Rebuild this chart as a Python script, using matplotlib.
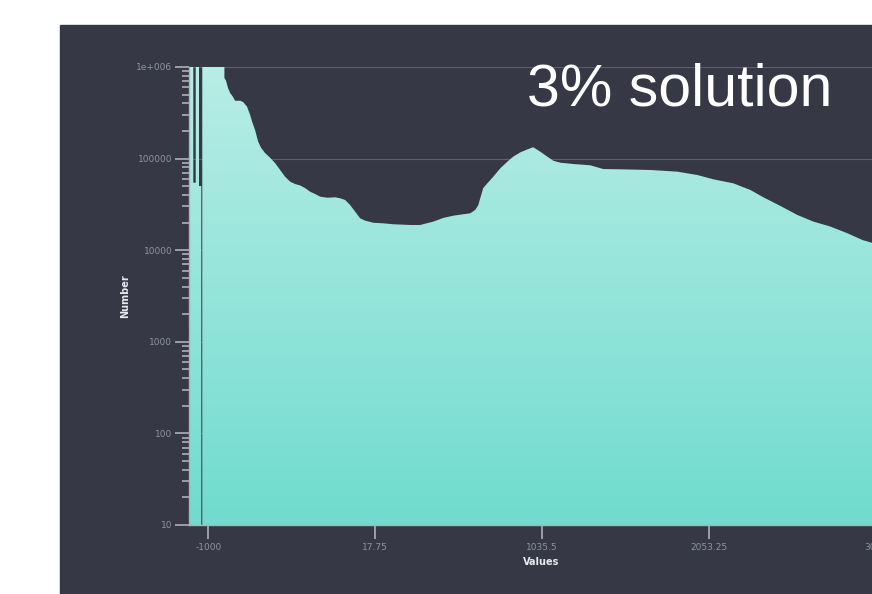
import numpy as np
import matplotlib
matplotlib.use("Agg")
import matplotlib.pyplot as plt
from matplotlib.patches import Rectangle
from matplotlib.ticker import FixedLocator, FixedFormatter, LogLocator, NullFormatter

# histogram envelope (value, count)
values = [-1118, -1092, -1092, -1077, -1077, -1057, -1057, -1043, -1043, -1037, -1037,
          -902, -902, -892, -880, -867, -849, -837, -806, -788, -764, -745, -733, -715,
          -696, -678, -654, -623, -593, -562, -532, -501, -471, -440, -410, -379, -349,
          -318, -275, -226, -196, -165, -135, -104, -74, -43, 6, 67, 128, 231, 292, 372,
          433, 494, 555, 598, 628, 647, 659, 677, 702, 738, 781, 824, 860, 903, 946, 982,
          1025, 1068, 1104, 1147, 1227, 1330, 1410, 1513, 1697, 1861, 1983, 2081, 2203,
          2307, 2386, 2490, 2594, 2692, 2795, 2899, 2991, 3052]
counts = [3e6, 3e6, 54600, 54600, 3e6, 3e6, 50200, 50200, 1, 1, 3e6,
          3e6, 759000, 708000, 590000, 520000, 470000, 428000, 428000, 415000, 369000,
          299000, 253000, 205000, 153000, 131000, 115000, 102000, 89500, 75100, 63400,
          56000, 52800, 50900, 47700, 43500, 41100, 38400, 37400, 37800, 36900, 35300,
          31100, 26300, 22300, 21000, 19950, 19650, 19200, 18850, 18850, 20500, 22500,
          23800, 24700, 25300, 27500, 31100, 37100, 47700, 53700, 63400, 78300, 92500,
          105000, 117000, 126000, 133000, 119000, 105000, 94900, 90200, 87300, 84500,
          76900, 76400, 75100, 72000, 66200, 59400, 53700, 45400, 37800, 30400, 24200,
          20500, 18100, 15300, 12900, 12000]

x_ticks = [-1000, 17.75, 1035.5, 2053.25, 3071]
x_tick_labels = ["-1000", "17.75", "1035.5", "2053.25", "3071"]
y_ticks = [10, 100, 1000, 10000, 100000, 1000000]
y_tick_labels = ["10", "100", "1000", "10000", "100000", "1e+006"]

dark = "#363845"
tick_col = "#aeb0ba"
label_col = "#8f92a0"

fig = plt.figure(figsize=(8.72, 5.94), dpi=100)
fig.patch.set_facecolor("white")
fig.patches.append(Rectangle((60 / 872, 0), 812 / 872, 569 / 594,
                             transform=fig.transFigure, color=dark, zorder=-5))

# axes runs off the right edge like the screenshot
ax = fig.add_axes([189 / 872, 69 / 594, 757 / 872, 458 / 594])
ax.set_zorder(1)
ax.set_facecolor(dark)
ax.set_yscale("log")
ax.set_xlim(-1118, 3500)
ax.set_ylim(10, 1e6)
ax.set_autoscale_on(False)

ax.grid(True, axis="y", which="major", color="#5d5f6d", linewidth=0.8, zorder=0.5)
ax.set_axisbelow(True)

poly = ax.fill_between(values, counts, 1, facecolor="none", edgecolor="none")
grad = np.linspace(0, 1, 256)[:, None, None]
top = np.array([0.72, 0.93, 0.90])
bot = np.array([0.44, 0.86, 0.81])
img = top * (1 - grad) + bot * grad
im = ax.imshow(img, extent=(0, 1, 0, 1), transform=ax.transAxes, origin="upper",
               aspect="auto", zorder=1, interpolation="bilinear")
im.set_clip_path(poly.get_paths()[0], ax.transData)

for side in ["top", "right"]:
    ax.spines[side].set_visible(False)
for side in ["left", "bottom"]:
    ax.spines[side].set_color(tick_col)
    ax.spines[side].set_linewidth(1)
    ax.spines[side].set_zorder(3)

ax.xaxis.set_major_locator(FixedLocator(x_ticks))
ax.xaxis.set_major_formatter(FixedFormatter(x_tick_labels))
ax.yaxis.set_major_locator(FixedLocator(y_ticks))
ax.yaxis.set_major_formatter(FixedFormatter(y_tick_labels))
ax.yaxis.set_minor_locator(LogLocator(base=10, subs=np.arange(2, 10)))
ax.yaxis.set_minor_formatter(NullFormatter())

ax.tick_params(axis="x", which="major", length=10, width=1.2, color=tick_col,
               labelcolor=label_col, labelsize=6.5, pad=3)
ax.tick_params(axis="y", which="major", length=10, width=1.2, color=tick_col,
               labelcolor=label_col, labelsize=6.5, pad=2)
ax.tick_params(axis="y", which="minor", length=5, width=1.2, color=tick_col)

fig.text(541 / 872, (594 - 562) / 594, "Values", color="#e8e9ee", fontsize=7,
         fontweight="bold", ha="center", va="center", zorder=5)
fig.text(125 / 872, (594 - 296) / 594, "Number", color="#e8e9ee", fontsize=7,
         fontweight="bold", ha="center", va="center", rotation=90, zorder=5)

fig.text(527 / 872, (594 - 106) / 594, "3% solution", color="white", fontsize=42.5,
         family="Liberation Sans", ha="left", va="baseline", zorder=5)

fig.savefig("out.png", dpi=100)
